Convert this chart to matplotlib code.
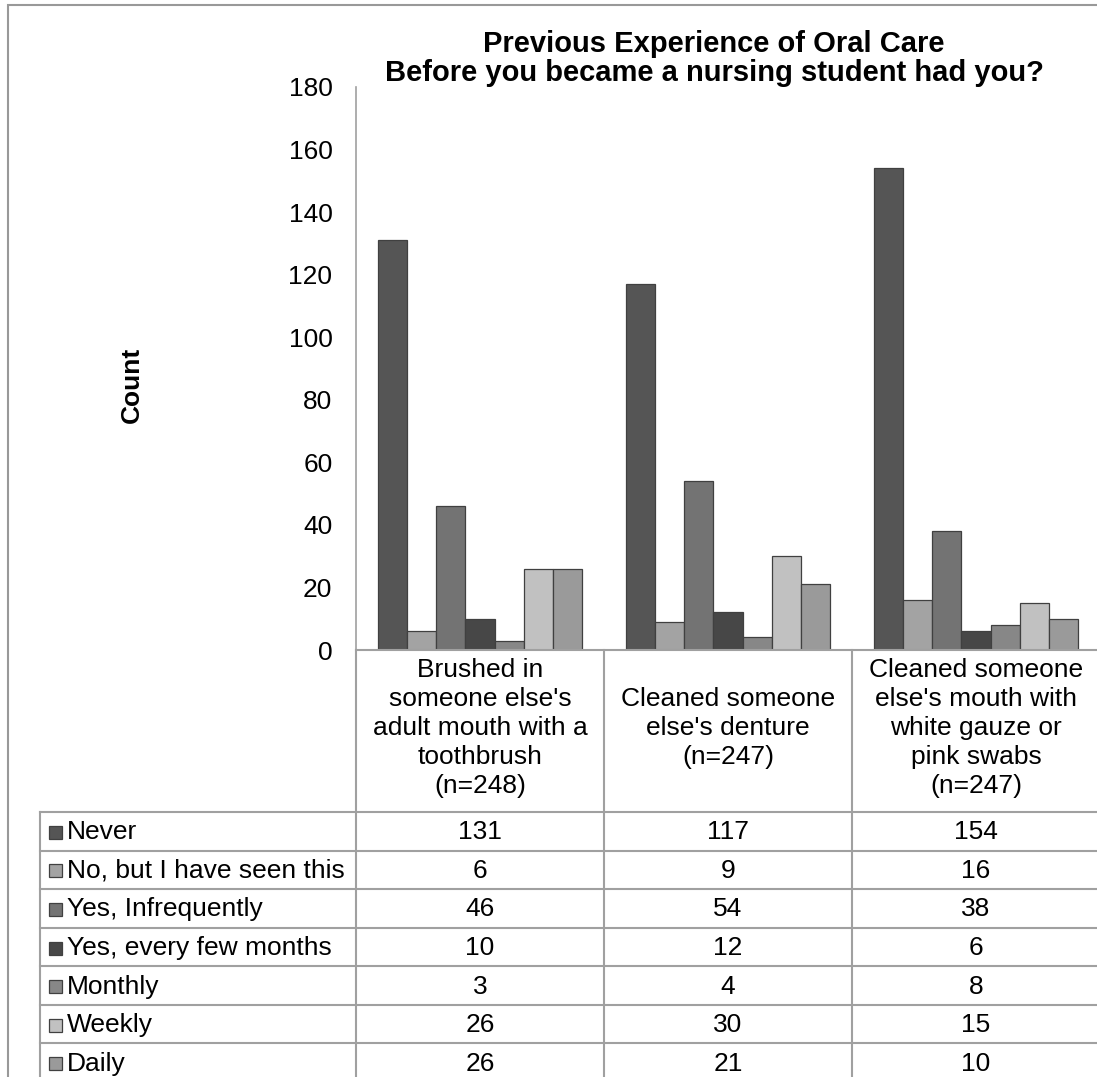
import matplotlib
matplotlib.use("Agg")
import matplotlib.pyplot as plt
from matplotlib.patches import Rectangle
from matplotlib.lines import Line2D
from matplotlib.transforms import blended_transform_factory

plt.rcParams['font.family'] = ['Liberation Sans', 'DejaVu Sans']

# ---- data -------------------------------------------------------------
categories = [
    "Brushed in\nsomeone else's\nadult mouth with a\ntoothbrush\n(n=248)",
    "Cleaned someone\nelse's denture\n(n=247)",
    "Cleaned someone\nelse's mouth with\nwhite gauze or\npink swabs\n(n=247)",
]
series_names = [
    "Never",
    "No, but I have seen this",
    "Yes, Infrequently",
    "Yes, every few months",
    "Monthly",
    "Weekly",
    "Daily",
]
never = [131, 117, 154]
seen_only = [6, 9, 16]
infrequently = [46, 54, 38]
few_months = [10, 12, 6]
monthly = [3, 4, 8]
weekly = [26, 30, 15]
daily = [26, 21, 10]
series_values = [never, seen_only, infrequently, few_months, monthly, weekly, daily]
y_ticks = [0, 20, 40, 60, 80, 100, 120, 140, 160, 180]

colors = ["#555555", "#a3a3a3", "#737373", "#474747", "#878787", "#c1c1c1", "#9a9a9a"]
edge = "#404040"
grid_c = "#a0a0a0"
FS = 19

# ---- figure / axes (pixel layout) ------------------------------------
W, H = 1097, 1077
fig = plt.figure(figsize=(W / 100, H / 100), dpi=100)


def fx(x):
    return x / W


def fy(y):
    return 1 - y / H


ax_left, ax_right, ax_top, ax_bottom = 356, 1100, 87, 650
ax = fig.add_axes([fx(ax_left), fy(ax_bottom),
                   (ax_right - ax_left) / W, (ax_bottom - ax_top) / H])

n_series = len(series_values)
bar_w = 0.118
for i, (vals, col) in enumerate(zip(series_values, colors)):
    xs = [c + 0.5 + (i - (n_series - 1) / 2) * bar_w for c in range(len(categories))]
    ax.bar(xs, vals, width=bar_w, color=col, edgecolor=edge, linewidth=0.9, zorder=3)

ax.set_xlim(0, len(categories))
ax.set_ylim(0, 180)
ax.set_yticks(y_ticks)
ax.set_yticklabels([str(t) for t in y_ticks], fontsize=FS)
ax.tick_params(axis='y', length=0, pad=17)
ax.set_xticks([])
for s in ['top', 'right', 'bottom']:
    ax.spines[s].set_visible(False)
ax.spines['left'].set_color(grid_c)
ax.spines['left'].set_linewidth(1.2)

# y axis title
fig.text(fx(132), fy(385), "Count", rotation=90, ha='center', va='center',
         fontsize=FS, fontweight='bold')

# chart title (two lines)
fig.text(fx(714), fy(44), "Previous Experience of Oral Care",
         ha='center', va='center', fontsize=21, fontweight='bold')
fig.text(fx(714), fy(73), "Before you became a nursing student had you?",
         ha='center', va='center', fontsize=21, fontweight='bold')

# ---- data table below the plot --------------------------------------
table_left = 40
label_bottom = 812
row_h = (1082 - 812) / 7
lw = 1.5


def hline(y, x0, x1):
    fig.add_artist(Line2D([fx(x0), fx(x1)], [fy(y), fy(y)], color=grid_c,
                          linewidth=lw, transform=fig.transFigure))


def vline(x, y0, y1):
    fig.add_artist(Line2D([fx(x), fx(x)], [fy(y0), fy(y1)], color=grid_c,
                          linewidth=lw, transform=fig.transFigure))


# x axis line and category separators
hline(ax_bottom, ax_left, ax_right + 10)
vline(ax_left, ax_bottom, H + 10)
for c in range(1, len(categories) + 1):
    xp = ax_left + c * (ax_right - ax_left) / len(categories)
    vline(xp, ax_bottom, H + 10)
vline(table_left, label_bottom, H + 10)
for r in range(len(series_names) + 1):
    hline(label_bottom + r * row_h, table_left, ax_right + 10)

col_tr = blended_transform_factory(ax.transData, fig.transFigure)

# category labels
for c, lab in enumerate(categories):
    fig.text(c + 0.5, fy((ax_bottom + label_bottom) / 2 - 3), lab, transform=col_tr,
             ha='center', va='center', fontsize=FS, linespacing=1.27)

# rows: legend key + name + values
for r, (name, col, vals) in enumerate(zip(series_names, colors, series_values)):
    yc = label_bottom + (r + 0.5) * row_h + 1
    key = 13
    fig.add_artist(Rectangle((fx(49), fy(yc + key / 2)), key / W, key / H,
                             facecolor=col, edgecolor=edge, linewidth=0.9,
                             transform=fig.transFigure))
    fig.text(fx(67), fy(yc), name, ha='left', va='center', fontsize=FS)
    for c, v in enumerate(vals):
        fig.text(c + 0.5, fy(yc), str(v), transform=col_tr,
                 ha='center', va='center', fontsize=FS)

# outer chart border
fig.add_artist(Rectangle((fx(8), fy(H + 20)), (W + 20) / W, (H + 15) / H,
                         facecolor='none', edgecolor='#999999', linewidth=1.5,
                         transform=fig.transFigure))

fig.savefig("out.png", dpi=100)
